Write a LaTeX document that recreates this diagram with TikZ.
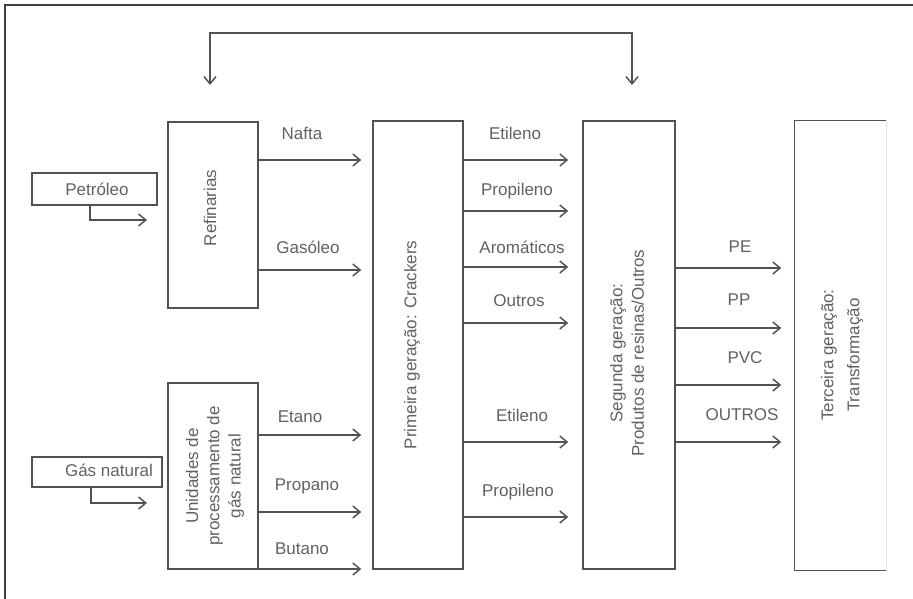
\documentclass[tikz,border=0pt]{standalone}
\usepackage{fontspec}
\setmainfont{Liberation Sans}
\usetikzlibrary{arrows.meta}
\colorlet{linecol}{black!68}
\colorlet{txtcol}{black!62}
\tikzset{
  box/.style={draw=linecol,line width=1.1pt,rectangle,inner sep=0pt},
  flow/.style={draw=linecol,line width=1.1pt,
               -{Straight Barb[length=5.5pt,width=9pt,line width=1.1pt]},
               shorten >=#1},
  flow/.default=0pt,
  lbl/.style={text=txtcol,font=\fontsize{12.75}{16}\selectfont,inner sep=0pt},
  vtxt/.style={lbl,rotate=90,align=center}}

\begin{document}
\begin{tikzpicture}[x=0.75pt,y=-0.75pt]
  \useasboundingbox (0,0) rectangle (913,599);
  % FRAME
  \draw[black!75,line width=0.8pt] (5,599) -- (5,5) -- (913,5);

  % SOURCES
  \node[box,minimum width=93.75pt,minimum height=24pt] (petr) at (94.5,189) {};
  \node[lbl] at (97,189) {Petróleo};
  \node[box,minimum width=97.5pt,minimum height=22.5pt] (gas) at (97,472) {};
  \node[lbl] at (109,470) {Gás natural};

  % BOXES
  \node[box,minimum width=67.5pt,minimum height=139.5pt] (refin) at (213,215) {};
  \node[box,minimum width=67.5pt,minimum height=139.5pt] (unid) at (213,476) {};
  \node[box,minimum width=67.5pt,minimum height=336pt] (prim) at (418,345) {};
  \node[box,minimum width=69pt,minimum height=336pt] (seg) at (629,345) {};
  \node[box,draw=none,minimum width=68.25pt,minimum height=336.75pt] (terc) at (840.5,345.5) {};
  \draw[linecol,line width=1.1pt] (terc.north east) -- (terc.north west)
    -- (terc.south west) -- (terc.south east);
  \draw[black!10,line width=1.1pt] (terc.north east) -- (terc.south east); % faint right side

  \node[vtxt] at (210,208) {Refinarias};
  \node[vtxt] at (215,476) {Unidades de\\processamento de\\gás natural};
  \node[vtxt] at (412,345) {Primeira geração: Crackers};
  \node[vtxt] at (627,353) {Segunda geração:\\Produtos de resinas/Outros};
  \node[vtxt,font=\fontsize{12.75}{19.5}\selectfont] at (842,355) {Terceira geração:\\Transformação};

  % FEEDBACK
  \coordinate (fbl) at (210,85);
  \coordinate (fbr) at (632,85);
  \draw[flow,{Straight Barb[length=5.5pt,width=9pt,line width=1.1pt]}-{Straight Barb[length=5.5pt,width=9pt,line width=1.1pt]}]
    (fbl) -- ++(0,-52) -| (fbr);

  % INPUTS
  \coordinate (petrin) at (147,220);
  \coordinate (gasin) at (147,503);
  \draw[flow] (petr.south -| 90,0) |- (petrin);
  \draw[flow] (gas.south -| 91,0) |- (gasin);

  % FLOWS
  \foreach \y/\lx/\ly/\txt in {160/302/133/Nafta, 270/308/247/Gasóleo}{
    \draw[flow=8.25pt] (refin.east |- 0,\y) -- (prim.west |- 0,\y);
    \node[lbl] at (\lx,\ly) {\txt};
  }
  \foreach \y/\lx/\ly/\txt in {435/300/417/Etano, 512/307/486/Propano, 569/302/549/Butano}{
    \draw[flow=8.25pt] (unid.east |- 0,\y) -- (prim.west |- 0,\y);
    \node[lbl] at (\lx,\ly) {\txt};
  }
  \foreach \y/\lx/\ly/\txt in {160/515/133/Etileno, 211/517/191/Propileno,
      267/522/247/Aromáticos, 323/519/301/Outros,
      442/522/415/Etileno, 517/518/492/Propileno}{
    \draw[flow=10.5pt] (prim.east |- 0,\y) -- (seg.west |- 0,\y);
    \node[lbl] at (\lx,\ly) {\txt};
  }
  \foreach \y/\lx/\ly/\txt in {268/740/247/PE, 328/739/300/PP,
      385/745/358/PVC, 442/742/415/OUTROS}{
    \draw[flow=9.75pt] (seg.east |- 0,\y) -- (terc.west |- 0,\y);
    \node[lbl] at (\lx,\ly) {\txt};
  }
\end{tikzpicture}
\end{document}
